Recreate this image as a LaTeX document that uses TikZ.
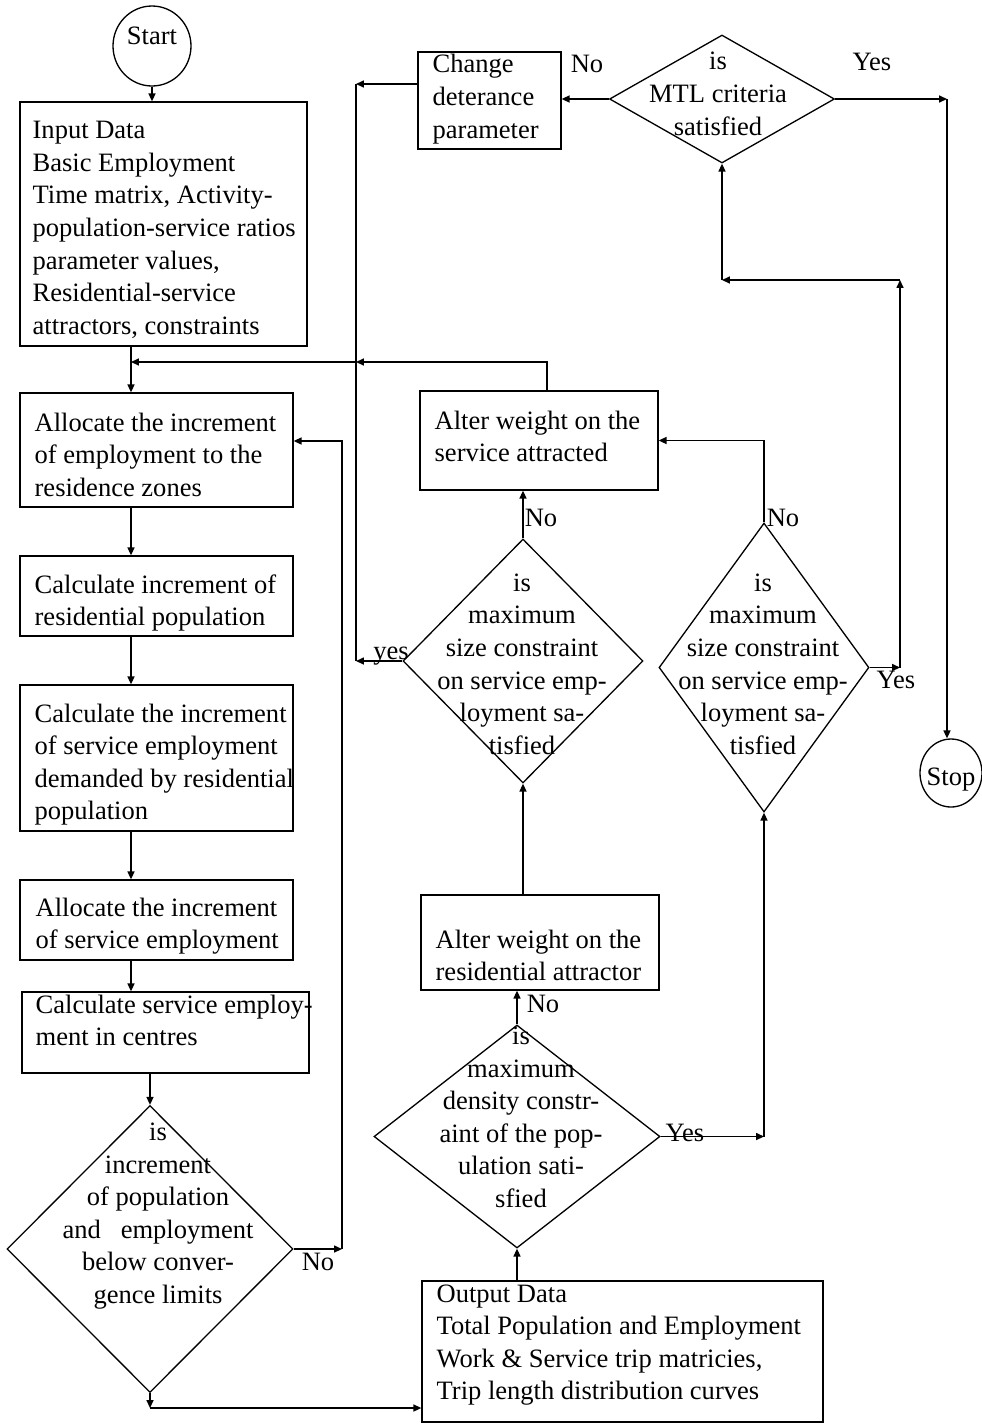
\documentclass[tikz,border=0pt]{standalone}
\usepackage{fontspec}
\setmainfont{Liberation Serif}
\usetikzlibrary{shapes.geometric,arrows.meta}
\newlength\pxu
\setlength\pxu{0.02cm}
\newcommand\fs{\fontsize{15.1pt}{18.5pt}\selectfont}
\begin{document}
\begin{tikzpicture}[x=0.02cm,y=-0.02cm,
  line width=0.75pt,
  arr/.style={-{Triangle[length=4.5pt,width=4pt]}},
  boxnode/.style={draw,rectangle,inner sep=0pt},
  dia/.style={draw,diamond,inner sep=0pt,aspect=1},
  oval/.style={draw,ellipse,inner sep=0pt},
  txt/.style={font=\fs,align=left,inner sep=0pt,anchor=base west},
  ctxt/.style={font=\fs,align=center,inner sep=0pt,anchor=base},
  lbl/.style={font=\fs,inner sep=0pt,anchor=base}]
\useasboundingbox (0,0) rectangle (981,1424);

% ---------- shapes ----------
\node[oval,minimum width=78\pxu,minimum height=80\pxu] (start) at (152,46) {};
\node[oval,minimum width=62\pxu,minimum height=68\pxu] (stop) at (951,773) {};

\node[boxnode,minimum width=143\pxu,minimum height=97\pxu] (change) at (489.5,100.5) {};
\node[boxnode,minimum width=287\pxu,minimum height=244\pxu] (input) at (163.5,224) {};
\node[boxnode,minimum width=273\pxu,minimum height=114\pxu] (alloc) at (156.5,450) {};
\node[boxnode,minimum width=273\pxu,minimum height=80\pxu] (calcinc) at (156.5,596) {};
\node[boxnode,minimum width=273\pxu,minimum height=146\pxu] (calcdem) at (156.5,758) {};
\node[boxnode,minimum width=273\pxu,minimum height=80\pxu] (allocserv) at (156.5,920) {};
\node[boxnode,minimum width=287\pxu,minimum height=81\pxu] (calccent) at (165.5,1032.5) {};
\node[boxnode,minimum width=238\pxu,minimum height=99\pxu] (altserv) at (539,440.5) {};
\node[boxnode,minimum width=238\pxu,minimum height=95\pxu] (altres) at (540,942.5) {};
\node[boxnode,minimum width=401\pxu,minimum height=141\pxu] (output) at (622.5,1351.5) {};

\node[dia,minimum width=225\pxu,minimum height=128\pxu] (mtl) at (722,99) {};
\node[dia,minimum width=240\pxu,minimum height=244\pxu] (d1) at (523,661) {};
\node[dia,minimum width=210\pxu,minimum height=289\pxu] (d2) at (764,667.5) {};
\node[dia,minimum width=286\pxu,minimum height=223\pxu] (d3) at (517,1136.5) {};
\node[dia,minimum width=286\pxu,minimum height=287\pxu] (d4) at (150,1249) {};

% ---------- texts (anchor = baseline of last line) ----------
\node[lbl] (tstart) at (152,44) {Start};
\node[lbl] (tstop) at (951,785) {Stop};
\node[txt] (tchange) at (432,138) {Change\\deterance\\parameter};
\node[txt] (tinput) at (32,334) {Input Data\\Basic Employment\\Time matrix, Activity-\\population-service ratios\\parameter values,\\Residential-service\\attractors, constraints};
\node[txt] (talloc) at (34,496) {Allocate the increment\\of employment to the\\residence zones};
\node[txt] (tcalcinc) at (34,625.5) {Calculate increment of\\residential population};
\node[txt] (tcalcdem) at (34,819.5) {Calculate the increment\\of service employment\\demanded by residential\\population};
\node[txt] (tallocserv) at (35,948.5) {Allocate the increment\\of service employment};
\node[txt] (tcalccent) at (35,1045.5) {Calculate service employ-\\ment in centres};
\node[txt] (taltserv) at (434,461.5) {Alter weight on the\\service attracted};
\node[txt] (taltres) at (435,980.5) {Alter weight on the\\residential attractor};
\node[txt] (toutput) at (436,1399.5) {Output Data\\Total Population and Employment\\Work \& Service trip matricies,\\Trip length distribution curves};

\node[ctxt] (tmtl) at (718,135) {is\\MTL criteria\\satisfied};
\node[ctxt] (td1) at (522,754) {is\\maximum\\size constraint\\on service emp-\\loyment sa-\\tisfied};
\node[ctxt] (td2) at (763,754) {is\\maximum\\size constraint\\on service emp-\\loyment sa-\\tisfied};
\node[ctxt] (td3) at (521,1207) {is\\maximum\\density constr-\\aint of the pop-\\ulation sati-\\sfied};
\node[ctxt] (td4) at (158,1303) {is\\increment\\of population\\and\ \ \ employment\\below conver-\\gence limits};

\node[lbl] (lno1) at (587,72) {No};
\node[lbl] (lyes1) at (872,70) {Yes};
\node[lbl] (lyes2) at (391,659) {yes};
\node[lbl] (lno2) at (541,526) {No};
\node[lbl] (lno3) at (783,526) {No};
\node[lbl] (lyes3) at (896,688) {Yes};
\node[lbl] (lno4) at (543,1012) {No};
\node[lbl] (lyes4) at (685,1141) {Yes};
\node[lbl] (lno5) at (318,1270) {No};

% ---------- junction coordinates ----------
\coordinate (jL) at (131,362);
\coordinate (jM) at (356,362);
\coordinate (jS) at (547,362);
\coordinate (jT) at (356,84);
\coordinate (jR1) at (342,441);
\coordinate (jB) at (150,1408);
\coordinate (jU) at (900,280);
\coordinate (jE) at (947,99);

% ---------- connectors ----------
\draw[arr] (start.south) -- (start.south |- input.north);
\draw[arr] (input.south -| jL) -- (alloc.north -| jL);
\draw[arr] (altserv.north -| jS) -- (jS) -- (jM);
\draw[arr] (jM) -- (jL);
\draw[arr] (jT -| change.west) -- (jT);
\draw (jT) -- (jT |- d1.west);
\draw[arr] (d1.west) -- (d1.west -| jT);

\draw[arr] (alloc.south -| jL) -- (calcinc.north -| jL);
\draw[arr] (calcinc.south -| jL) -- (calcdem.north -| jL);
\draw[arr] (calcdem.south -| jL) -- (allocserv.north -| jL);
\draw[arr] (allocserv.south -| jL) -- (calccent.north -| jL);
\draw[arr] (d4.north |- calccent.south) -- (d4.north);

\draw[arr] (d4.east) -- (d4.east -| jR1);
\draw[arr] (d4.east -| jR1) -- (jR1) -- (jR1 -| alloc.east);

\draw[arr] (d4.south) -- (jB);
\draw[arr] (jB) -- (jB -| output.west);

\draw[arr] (d3.south |- output.north) -- (d3.south);
\draw[arr] (d3.north) -- (d3.north |- altres.south);
\draw[arr] (d3.east) -- (d3.east -| d2.south);
\draw[arr] (d3.east -| d2.south) -- (d2.south);

\draw[arr] (d1.south |- altres.north) -- (d1.south);
\draw[arr] (d1.north) -- (d1.north |- altserv.south);
\draw[arr] (d2.north) -- (d2.north |- altserv.east) -- (altserv.east);

\draw[arr] (d2.east) -- (d2.east -| jU);
\draw[arr] (d2.east -| jU) -- (jU);
\draw[arr] (jU) -- (jU -| mtl.south);
\draw[arr] (jU -| mtl.south) -- (mtl.south);

\draw[arr] (mtl.west) -- (mtl.west -| change.east);
\draw[arr] (mtl.east) -- (jE);
\draw[arr] (jE) -- (jE |- stop.north);
\end{tikzpicture}
\end{document}
